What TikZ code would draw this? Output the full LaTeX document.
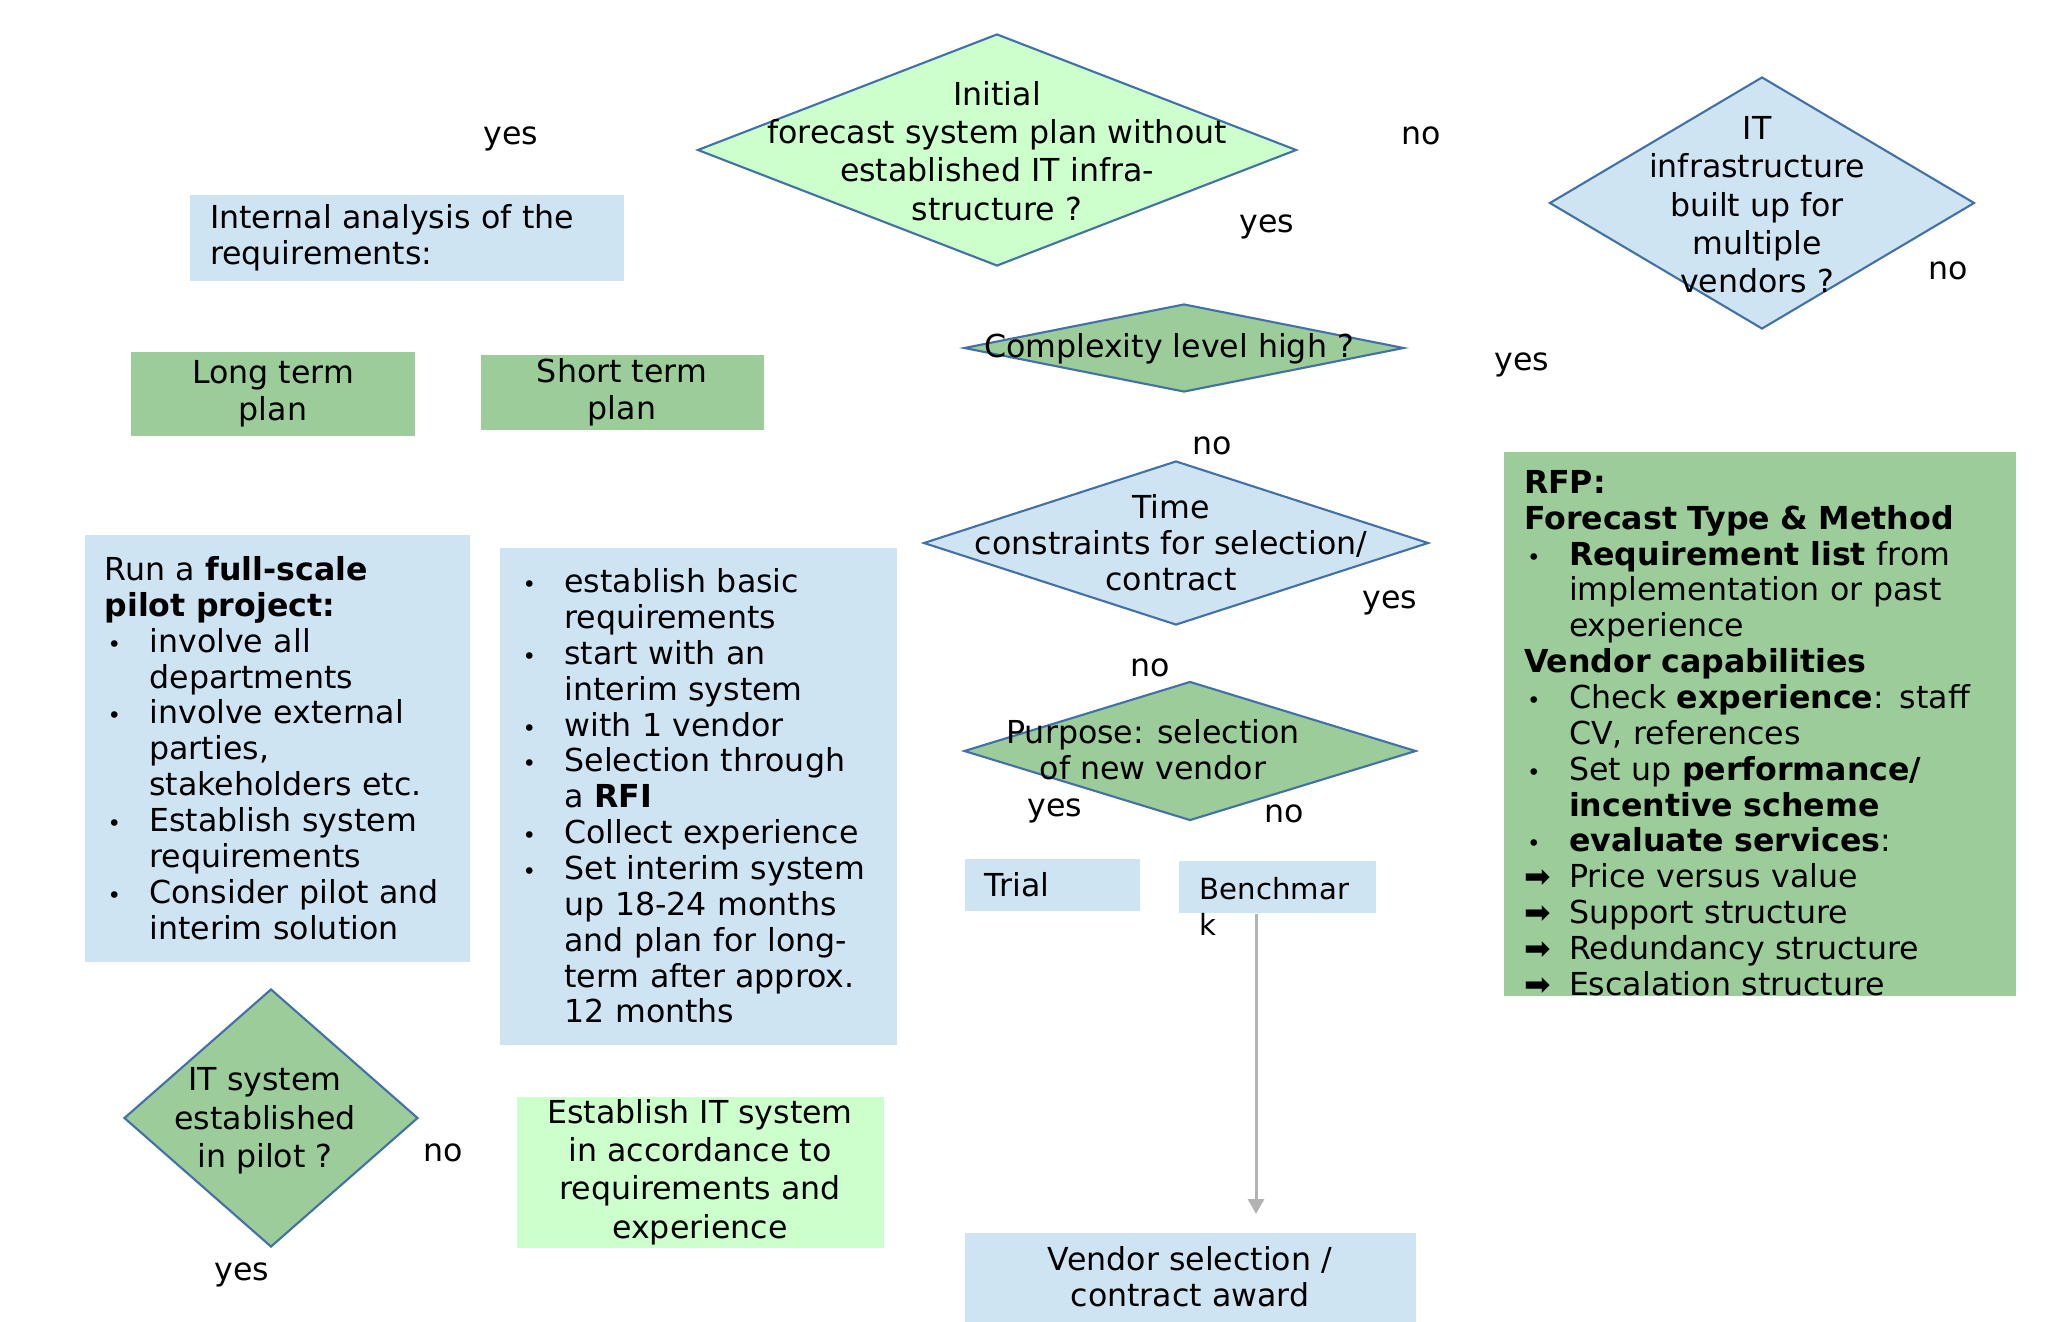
\documentclass[tikz,border=0pt]{standalone}
\usepackage{fontspec}
\setmainfont{DejaVu Sans}
\usetikzlibrary{shapes.geometric,arrows.meta}
\definecolor{paleblue}{RGB}{207,228,243}
\definecolor{midgreen}{RGB}{155,204,153}
\definecolor{palegreen}{RGB}{204,255,204}
\definecolor{edgeblue}{RGB}{65,113,166}
\definecolor{linegray}{RGB}{178,178,178}
\newcommand{\bl}{\makebox[4.5mm][l]{\hspace{0.3mm}\fontsize{6.5}{6.5}\selectfont\textbullet}}
\newcommand{\ind}{\makebox[4.5mm]{}}
\newcommand{\arr}{\makebox[4.5mm][l]{➡}}

\begin{document}
\begin{tikzpicture}[x=0.1mm,y=-0.1mm,
  every node/.style={font=\fontsize{9}{10.2}\selectfont},
  box/.style={rectangle,inner xsep=2mm,inner ysep=0pt,align=left},
  bluebox/.style={box,fill=paleblue},
  greenbox/.style={box,fill=midgreen},
  palebox/.style={box,fill=palegreen},
  dia/.style={diamond,draw=edgeblue,line width=0.6pt,inner sep=0pt},
  qtext/.style={inner sep=0pt,align=center},
  wide/.style={font=\fontsize{9}{10.9}\selectfont},
  tag/.style={inner sep=0pt,text height=5pt,text depth=0pt},
  flow/.style={draw=linegray,line width=0.85pt,-{Triangle[width=1.6mm,length=1.5mm]}}]
\useasboundingbox (0,0) rectangle (2054,1321);

\node[dia,fill=palegreen,minimum width=59.9mm,minimum height=23.2mm] (initial) at (997,150) {};
\node[qtext,wide] (initialtxt) at (997,151) {Initial\\forecast system plan without\\established IT infra-\\structure ?};
\node[tag] (yesA) at (511,136) {yes};
\node[tag] (noA) at (1421,136) {no};
\node[tag] (yesB) at (1267,224) {yes};

\node[dia,fill=paleblue,minimum width=42.5mm,minimum height=25.2mm] (multi) at (1762,203) {};
\node[qtext,wide] (multitxt) at (1757,205) {IT\\infrastructure\\built up for\\multiple\\vendors ?};
\node[tag] (noB) at (1948,271) {no};

\node[bluebox,minimum width=43.4mm,minimum height=8.6mm,text width=39.4mm] (analysis) at (407,238) {Internal analysis of the\\requirements:};
\node[greenbox,align=center,minimum width=28.4mm,minimum height=8.4mm,font=\fontsize{9}{10.5}\selectfont] (longplan) at (273,394) {Long term\\plan};
\node[greenbox,align=center,minimum width=28.3mm,minimum height=7.5mm,font=\fontsize{9}{10.5}\selectfont] (shortplan) at (622,392) {Short term\\plan};

\node[dia,fill=midgreen,minimum width=44mm,minimum height=8.8mm] (complex) at (1184,348) {};
\node[qtext] (complextxt) at (1169,349) {Complexity level high ?};
\node[tag] (yesC) at (1522,362) {yes};
\node[tag] (noC) at (1212,446) {no};

\node[dia,fill=paleblue,minimum width=50.5mm,minimum height=16.4mm] (time) at (1176,543) {};
\node[qtext] (timetxt) at (1171,543) {Time\\constraints for selection/\\contract};
\node[tag] (yesD) at (1390,600) {yes};
\node[tag] (noD) at (1150,668) {no};

\node[dia,fill=midgreen,minimum width=45.2mm,minimum height=13.9mm] (purpose) at (1190,751) {};
\node[qtext] (purposetxt) at (1153,750) {Purpose: selection\\of new vendor};
\node[tag] (yesE) at (1055,808) {yes};
\node[tag] (noE) at (1284,814) {no};

\node[bluebox,minimum width=17.5mm,minimum height=5.2mm,text width=13.5mm] (trial) at (1052,885) {Trial};
\node[bluebox,minimum width=19.7mm,minimum height=5.2mm] (bench) at (1277,887) {};
\node[qtext,align=left,anchor=north west,font=\fontsize{8.3}{10.2}\selectfont] (benchtxt) at (1199,877) {Benchmar\\k};
\node[bluebox,align=center,minimum width=45.1mm,minimum height=8.9mm] (award) at (1190,1277) {Vendor selection /\\contract award};
\coordinate (awardtop) at (1256,1214);
\draw[flow] (bench.south -| awardtop) -- (awardtop);

\node[greenbox,minimum width=51.2mm,minimum height=54.4mm,text width=47.2mm] (rfp) at (1760,724) {};
\node[qtext,align=left,text width=47.2mm] (rfptxt) at (1760,733) {\textbf{RFP:}\\
\textbf{Forecast Type \& Method}\\
\bl\textbf{Requirement list} from\\
\ind implementation or past\\
\ind experience\\
\textbf{Vendor capabilities}\\
\bl Check \textbf{experience}: staff\\
\ind CV, references\\
\bl Set up \textbf{performance/}\\
\ind\textbf{incentive scheme}\\
\bl\textbf{evaluate services}:\\
\arr Price versus value\\
\arr Support structure\\
\arr Redundancy structure\\
\arr Escalation structure};

\node[bluebox,minimum width=38.5mm,minimum height=42.7mm,text width=34.5mm] (pilot) at (277,748) {Run a \textbf{full-scale}\\
\textbf{pilot project:}\\
\bl involve all\\
\ind departments\\
\bl involve external\\
\ind parties,\\
\ind stakeholders etc.\\
\bl Establish system\\
\ind requirements\\
\bl Consider pilot and\\
\ind interim solution};

\node[bluebox,minimum width=39.7mm,minimum height=49.7mm,text width=35.7mm] (interim) at (698,796) {\bl establish basic\\
\ind requirements\\
\bl start with an\\
\ind interim system\\
\bl with 1 vendor\\
\bl Selection through\\
\ind a \textbf{RFI}\\
\bl Collect experience\\
\bl Set interim system\\
\ind up 18-24 months\\
\ind and plan for long-\\
\ind term after approx.\\
\ind 12 months};

\node[dia,fill=midgreen,minimum width=29.4mm,minimum height=25.8mm] (inpilot) at (271,1118) {};
\node[qtext,wide] (inpilottxt) at (265,1121) {IT system\\established\\in pilot ?};
\node[tag] (noF) at (443,1153) {no};
\node[tag] (yesF) at (242,1272) {yes};

\node[palebox,wide,align=center,minimum width=36.7mm,minimum height=15.1mm] (establish) at (700,1172) {Establish IT system\\in accordance to\\requirements and\\experience};
\end{tikzpicture}
\end{document}
